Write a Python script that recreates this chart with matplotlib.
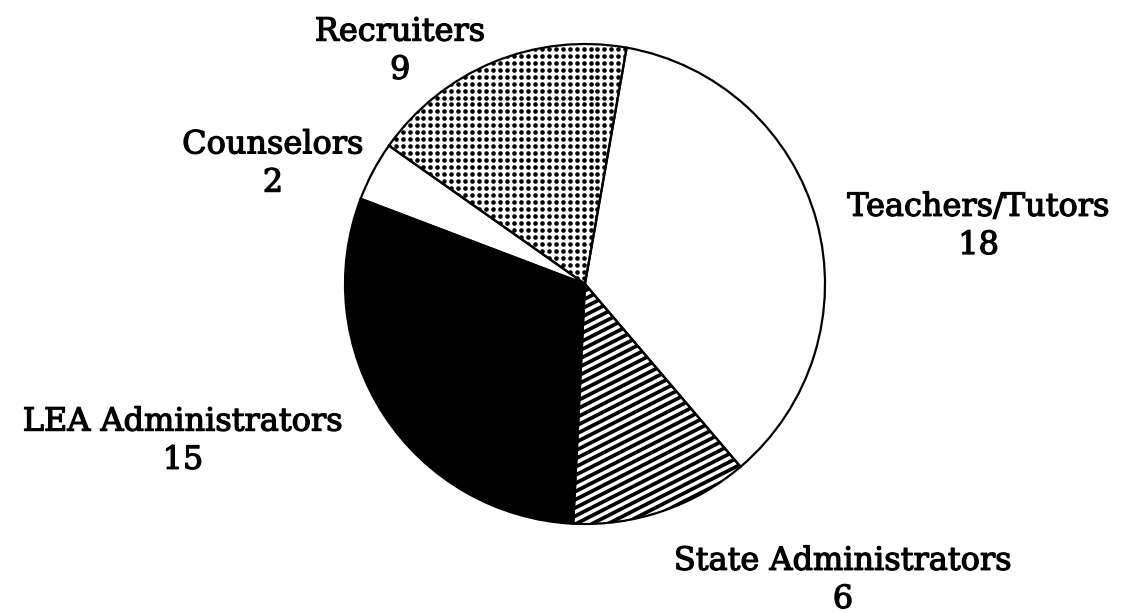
import numpy as np
import matplotlib.pyplot as plt
import matplotlib.patheffects as pe
from matplotlib.patches import Wedge

labels = ["Teachers/Tutors", "State Administrators", "LEA Administrators",
          "Counselors", "Recruiters"]
counts = [18, 6, 15, 2, 9]
fills = ["white", "white", "black", "white", "white"]

# label block centres in pie units (radius = 1)
label_pos = [(1.64, 0.24), (1.075, -1.235), (-1.675, -0.655),
             (-1.30, 0.50), (-0.77, 0.97)]

fig = plt.figure(figsize=(11.36, 6.13), dpi=100)
ax = fig.add_axes([0, 0, 1, 1])

wedges, _ = ax.pie(counts, colors=fills, startangle=80, counterclock=False,
                   radius=1, wedgeprops=dict(edgecolor="black", linewidth=1.6))

# dotted fill for Recruiters
g = np.arange(-1.05, 1.05, 0.029)
gx, gy = np.meshgrid(g, g)
dots, = ax.plot(gx.ravel(), gy.ravel(), "o", color="black", ms=3.3, mec="none")
dots.set_clip_path(wedges[4])

# shallow diagonal lines for State Administrators
slope = np.tan(np.radians(27))
xs = np.array([-1.2, 1.2])
for c in np.arange(-2.0, 1.5, 0.034):
    ln, = ax.plot(xs, slope * xs + c, color="black", lw=2.7,
                  solid_capstyle="butt")
    ln.set_clip_path(wedges[1])

# faces go underneath the patterns, outlines on top
for w, f in zip(wedges, fills):
    ax.add_patch(Wedge(w.center, w.r, w.theta1, w.theta2,
                       facecolor=f, edgecolor="none", zorder=0))
    w.set_facecolor("none")
    w.set_zorder(3)

heavy = [pe.withStroke(linewidth=0.9, foreground="black")]
for name, n, (x, y) in zip(labels, counts, label_pos):
    ax.text(x, y, f"{name}\n{n}", ha="center", va="center", fontsize=23,
            family="DejaVu Serif", linespacing=1.3, path_effects=heavy)

ax.set_xlim(-585 / 240, (1136 - 585) / 240)
ax.set_ylim(-(613 - 284) / 240, 284 / 240)
ax.set_aspect("equal")
ax.axis("off")

fig.savefig("out.png", dpi=100, facecolor="white")
